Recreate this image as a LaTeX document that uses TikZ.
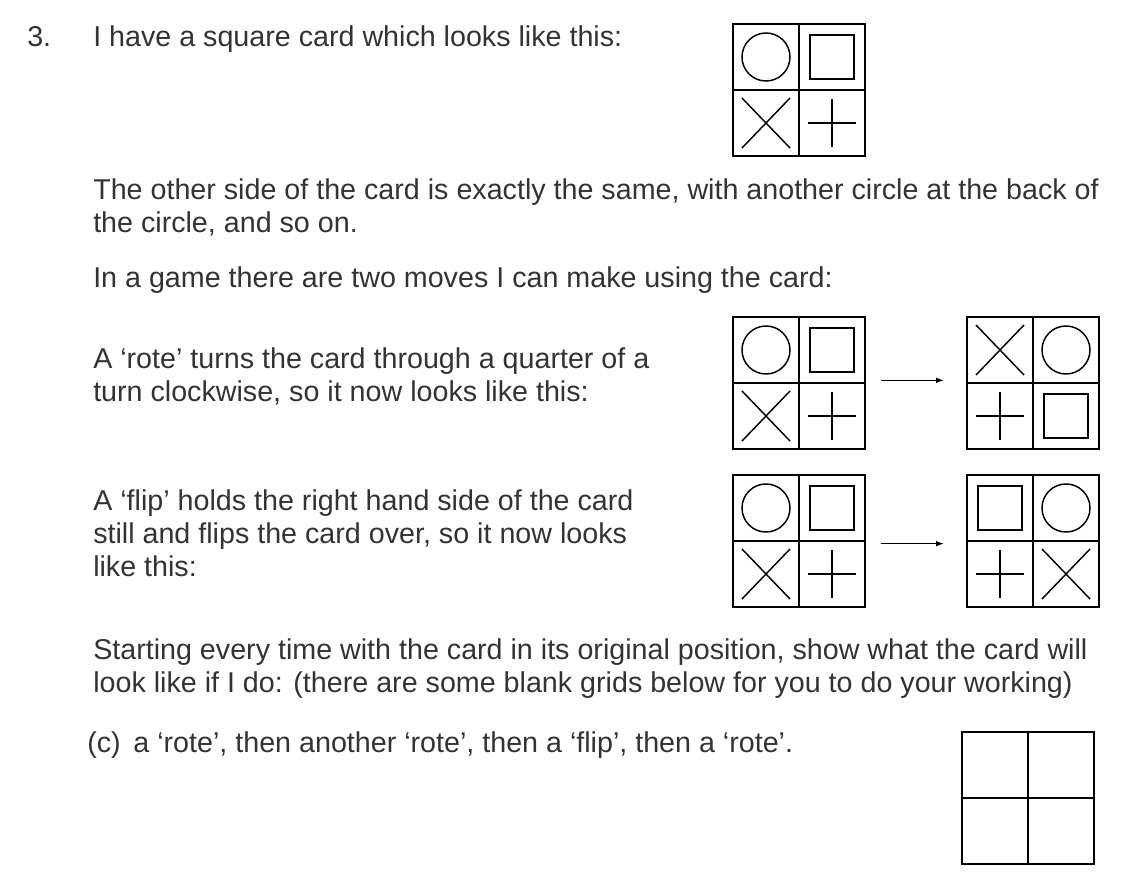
\documentclass[tikz,border=0pt]{standalone}
\usepackage{fontspec}
\setmainfont{Liberation Sans}
\begin{document}
\begin{tikzpicture}[x=0.75pt,y=-0.75pt,
  txt/.style={anchor=base west,inner sep=0pt,font=\fontsize{21.5pt}{26pt}\selectfont,text=black!80},
  grid/.style={draw,line width=1.3pt,minimum size=99pt,inner sep=0pt},
  sym/.style={line width=1.1pt},
  arr/.style={-latex,line width=0.9pt,shorten >=2pt,shorten <=2pt},
  circ/.pic={\draw[sym] (0,0) circle (24);},
  sqr/.pic={\draw[sym] (-22,-22) rectangle (22,22);},
  crs/.pic={\draw[sym] (-24,-25) -- (24,25) (-24,25) -- (24,-25);},
  pls/.pic={\draw[sym] (-24,0) -- (24,0) (0,-24) -- (0,24);}
]
\useasboundingbox (0,0) rectangle (1129,893);
\newcommand\mygrid[7]{%
  \node[grid] (#1) at (#2,#3) {};
  \draw[line width=1.3pt] (#1.north) -- (#1.south) (#1.west) -- (#1.east);
  \ifx\relax#4\relax\else\pic at (#2-33,#3-33) {#4};\fi
  \ifx\relax#5\relax\else\pic at (#2+33,#3-33) {#5};\fi
  \ifx\relax#6\relax\else\pic at (#2-33,#3+33) {#6};\fi
  \ifx\relax#7\relax\else\pic at (#2+33,#3+33) {#7};\fi}
\mygrid{g0}{799}{90}{circ}{sqr}{crs}{pls}
\mygrid{r1}{799}{383}{circ}{sqr}{crs}{pls}
\mygrid{r2}{1033}{383}{crs}{circ}{pls}{sqr}
\mygrid{f1}{799}{541}{circ}{sqr}{crs}{pls}
\mygrid{f2}{1033}{541}{sqr}{circ}{pls}{crs}
\mygrid{b1}{1028}{798}{}{}{}{}
\draw[arr] ([xshift=9pt,yshift=2pt]r1.east) -- ([xshift=-15pt,yshift=2pt]r2.west);
\draw[arr] ([xshift=9pt,yshift=-2pt]f1.east) -- ([xshift=-15pt,yshift=-2pt]f2.west);
\node[txt] (n3) at (27,46) {3.};
\node[txt] (t1) at (93,46) {I have a square card which looks like this:};
\node[txt] (t2) at (93,199) {The other side of the card is exactly the same, with another circle at the back of};
\node[txt] (t3) at (93,232) {the circle, and so on.};
\node[txt] (t4) at (93,287) {In a game there are two moves I can make using the card:};
\node[txt] (t5) at (93,368) {A `rote' turns the card through a quarter of a};
\node[txt] (t6) at (93,401) {turn clockwise, so it now looks like this:};
\node[txt] (t7) at (93,510) {A `flip' holds the right hand side of the card};
\node[txt] (t8) at (93,543) {still and flips the card over, so it now looks};
\node[txt] (t9) at (93,576) {like this:};
\node[txt] (t10) at (93,659) {Starting every time with the card in its original position, show what the card will};
\node[txt] (t11) at (93,692) {look like if I do: (there are some blank grids below for you to do your working)};
\node[txt] (t12) at (87,752) {(c)\, a `rote', then another `rote', then a `flip', then a `rote'.};
\end{tikzpicture}
\end{document}
